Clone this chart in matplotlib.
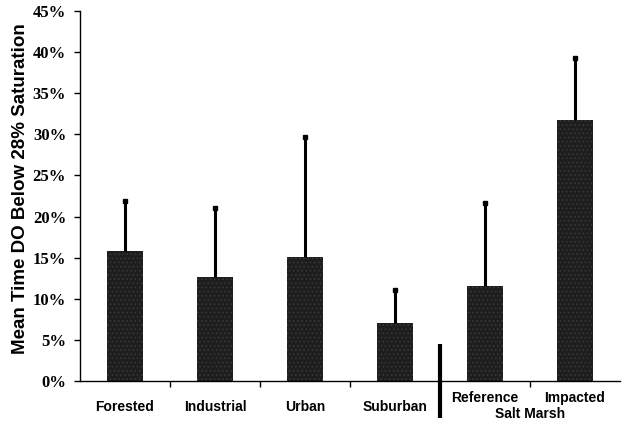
import numpy as np
import matplotlib.pyplot as plt
from matplotlib.ticker import FuncFormatter

# mean % of time below 28% DO saturation, with the upper error (SD)
sites = ["Forested", "Industrial", "Urban", "Suburban", "Reference", "Impacted"]
means = [15.8, 12.7, 15.1, 7.1, 11.6, 31.8]
errors = [6.1, 8.4, 14.6, 4.0, 10.0, 7.5]

plt.rcParams["hatch.linewidth"] = 0.6

fig = plt.figure(figsize=(6.23, 4.23), dpi=100)
ax = fig.add_axes([0.1284, 0.0993, 0.8668, 0.8747])

x = np.arange(len(sites)) + 0.5
tops = np.array(means) + np.array(errors)
ax.bar(x, means, width=0.41, color="#1e1e1e", linewidth=0, zorder=2)
# light speckle over the dark fill
ax.bar(x, means, width=0.41, facecolor="none", edgecolor="#3a3a3a",
       hatch="....", linewidth=0, zorder=2)
ax.vlines(x, means, tops, color="black", lw=2.2, zorder=3)
ax.plot(x, tops, "s", color="black", ms=3.5, zorder=3)

ax.set_xlim(0, len(sites))
ax.set_ylim(0, 45)
ax.set_yticks(np.arange(0, 46, 5))
ax.yaxis.set_major_formatter(FuncFormatter(lambda v, p: f"{v:.0f}%"))
ax.set_xticks(np.arange(1, len(sites)))
ax.set_xticklabels([])

for lbl in ax.get_yticklabels():
    lbl.set_family("Liberation Serif")
    lbl.set_fontweight("bold")
    lbl.set_fontsize(12)

ax.tick_params(axis="y", direction="out", length=4, width=1, pad=6)
ax.tick_params(axis="x", direction="out", length=4, width=1)
ax.spines["top"].set_visible(False)
ax.spines["right"].set_visible(False)
for s in ("left", "bottom"):
    ax.spines[s].set_linewidth(1)

# category names under the axis; the two marsh sites sit a bit higher
label_y = [-3.15, -3.15, -3.15, -3.15, -2.1, -2.1]
for xi, name, ly in zip(x, sites, label_y):
    ax.text(xi, ly, name, ha="center", va="center", fontsize=10,
            fontweight="bold", family="Liberation Sans")
ax.text(5.0, -4.05, "Salt Marsh", ha="center", va="center", fontsize=10,
        fontweight="bold", family="Liberation Sans")

# divider between watershed and marsh sites
ax.plot([4, 4], [4.5, -4.5], color="black", lw=3, clip_on=False,
        solid_capstyle="butt", zorder=4)

ax.set_ylabel("Mean Time DO Below 28% Saturation", fontsize=13.5,
              fontweight="bold", family="Liberation Sans")
ax.yaxis.set_label_coords(-0.094, 0.52)

fig.savefig("out.png", dpi=100)
